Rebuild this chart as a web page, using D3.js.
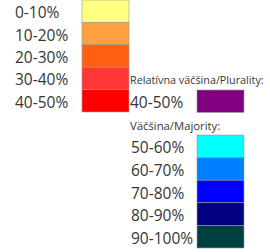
<!DOCTYPE html>
<html>
<head>
<meta charset="utf-8">
<script src="https://cdn.jsdelivr.net/npm/d3@7"></script>
<style>
	body {margin:0; background:#fff;}
	text {font-family:"Open Sans", sans-serif; fill:#363636;}
</style>
</head>
<body>
<script>
var LowLabels = ["0-10%","10-20%","20-30%","30-40%","40-50%"];
var LowColors = ["#ffff80","#ffa040","#ff6010","#ff3636","#ff0000"];
var PluralityTitle = "Relatívna väčšina/Plurality:";
var PluralityLabels = ["40-50%"];
var PluralityColors = ["#800080"];
var MajorityTitle = "Väčšina/Majority:";
var MajorityLabels = ["50-60%","60-70%","70-80%","80-90%","90-100%"];
var MajorityColors = ["#00ffff","#0080ff","#0000ff","#000080","#004040"];

var svg = d3.select("body").append("svg").attr("width",270).attr("height",252);

//one block of swatches + labels
function DrawBlock(Labels,Colors,y0,y1,TextX,SwatchX) {
	var y = d3.scaleBand().domain(Labels).range([y0,y1]);
	var g = svg.append("g");
	g.selectAll("rect").data(Labels).enter().append("rect")
		.attr("x",SwatchX).attr("y",function(d) {return y(d);})
		.attr("width",47).attr("height",y.bandwidth())
		.attr("fill",function(d,i) {return Colors[i];})
		.attr("stroke","#9a9a9a").attr("stroke-width",0.6);
	g.selectAll("text").data(Labels).enter().append("text")
		.attr("x",TextX).attr("y",function(d) {return y(d)+y.bandwidth()/2+7;})
		.style("font-size","15.5px")
		.text(function(d) {return d;});
}

DrawBlock(LowLabels,LowColors,0,112,15,82);
DrawBlock(PluralityLabels,PluralityColors,90,112.4,130,197);
DrawBlock(MajorityLabels,MajorityColors,135,248,131,197);

svg.append("text").attr("x",130).attr("y",84).style("font-size","10.8px").text(PluralityTitle);
svg.append("text").attr("x",130).attr("y",130).style("font-size","11.3px").text(MajorityTitle);
</script>
</body>
</html>
